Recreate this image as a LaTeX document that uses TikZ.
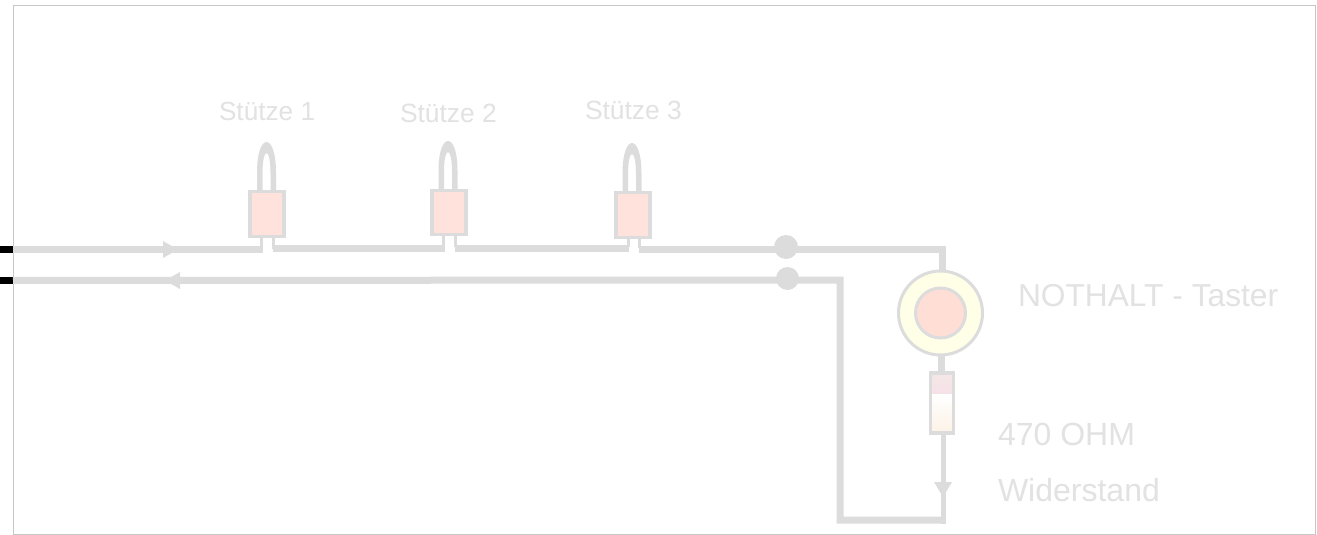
\documentclass[tikz,border=0pt]{standalone}
\usepackage{fontspec}
\setmainfont{Liberation Sans}
\usetikzlibrary{calc}
\definecolor{wire}{HTML}{DCDCDC}
\definecolor{label}{HTML}{E2E2E2}
\definecolor{pad}{HTML}{FFE2DC}
\definecolor{ringfill}{HTML}{FFFFE8}
\definecolor{knob}{HTML}{FFDED6}
\definecolor{resA}{HTML}{F4E8E6}
\definecolor{resB}{HTML}{F6E0E8}
\definecolor{resC}{HTML}{FDF2E6}
\tikzset{
  wireline/.style={draw=wire,line width=7pt,line cap=butt,line join=miter},
  stem/.style={draw=wire,line width=3pt},
  padbox/.style={draw=wire,line width=3.2pt,fill=pad,minimum width=34pt,minimum height=44.5pt,inner sep=0pt,outer sep=0pt},
  lab/.style={text=label,anchor=base west,inner sep=0pt,outer sep=0pt},
  dot/.style={circle,fill=wire,inner sep=0pt,outer sep=0pt},
  stub/.style={draw=black,line width=7pt},
  head/.style={fill=wire}
}
\newcommand{\hoop}[3]{%
  \fill[wire] (#1,#2+1) -- (#1,#2-18) .. controls (#1,#3+9) and (#1+5,#3) .. (#1+9.5,#3) .. controls (#1+14,#3) and (#1+19,#3+9) .. (#1+19,#2-18) -- (#1+19,#2+1) -- (#1+13.5,#2+1) -- (#1+13.5,#2-18) .. controls (#1+13.5,#3+18) and (#1+11.5,#3+11) .. (#1+9.5,#3+11) .. controls (#1+7.5,#3+11) and (#1+5.5,#3+18) .. (#1+5.5,#2-18) -- (#1+5.5,#2+1) -- cycle;
}
\begin{document}
\begin{tikzpicture}[x=1pt,y=-1pt]
\useasboundingbox (0,0) rectangle (1317,535);
\fill[white] (0,0) rectangle (1317,535);
\draw[draw=black!22,line width=1pt] (13.5,5.5) rectangle (1315,534);
% loops
\hoop{257}{191}{142}
\hoop{438.5}{189}{141}
\hoop{622.5}{192}{143}
% contact boxes
\node[padbox] (b1) at (267,214) {};
\node[padbox] (b2) at (449,212.5) {};
\node[padbox] (b3) at (633,215) {};
% button
\node[circle,draw=wire,line width=3pt,fill=ringfill,minimum size=84pt,inner sep=0pt,outer sep=0pt] (ring) at (940.5,313) {};
\node[circle,draw=wire,line width=3pt,fill=knob,minimum size=50pt,inner sep=0pt,outer sep=0pt] (knobc) at (940.5,313) {};
% resistor
\node[minimum width=23pt,minimum height=60pt,inner sep=0pt,outer sep=0pt] (r) at (942.3,403) {};
\shade[top color=resA,bottom color=resB] (r.north west) rectangle ($(r.north east)+(0,21)$);
\shade[top color=white,bottom color=resC] ($(r.north west)+(0,21)$) rectangle (r.south east);
\draw[draw=wire,line width=3.2pt] (r.north west) rectangle (r.south east);
% coordinates
\coordinate (inA) at (13,249.5);
\coordinate (inB) at (13,280.5);
\coordinate (edgeA) at (0,249.5);
\coordinate (edgeB) at (0,280.5);
\coordinate (cTop) at (942,249);
\coordinate (cLow) at (840,280);
\coordinate (cBotL) at (840,520);
\coordinate (cBotR) at (943,520);
% stubs
\draw[stub] (edgeA) -- (inA);
\draw[stub] (edgeB) -- (inB);
% wires
\draw[wireline] (inA) -- (263,249.5);
\draw[stem] ($(b1.south)+(-6,0)$) -- ($(b1.south)+(-6,10)$);
\draw[stem] ($(b1.south)+(6,0)$) -- ($(b1.south)+(6,13)$);
\draw[wireline] (273,248) -- (445,248);
\draw[stem] ($(b2.south)+(-6,0)$) -- ($(b2.south)+(-6,10)$);
\draw[stem] ($(b2.south)+(6,0)$) -- ($(b2.south)+(6,12)$);
\draw[wireline] (455,248.3) -- (629,248.3);
\draw[stem] ($(b3.south)+(-5,0)$) -- ($(b3.south)+(-5,10)$);
\draw[stem] ($(b3.south)+(6,0)$) -- ($(b3.south)+(6,11)$);
\draw[wireline] (639,249) -- (cTop) -- (cTop |- ring.north);
\draw[wireline] (inB) -- (cLow) -- (cBotL) -- (cBotR);
\coordinate (rTop) at (941,372);
\draw[wireline] (rTop |- ring.south) -- (rTop);
\draw[wireline,line width=5pt] (cBotR |- r.south) -- ($(cBotR)+(0,3.5)$);
% junction dots
\node[dot,minimum size=24pt] (d1) at (786,247) {};
\node[dot,minimum size=23pt] (d2) at (787.5,278.5) {};
% arrowheads
\fill[head] (163,241) -- (178,249.5) -- (163,258) -- cycle;
\fill[head] (180,272) -- (165,280.5) -- (180,289) -- cycle;
\fill[head] (934,482) -- (952,482) -- (943,497) -- cycle;
% labels
\node[lab,font=\fontsize{26.2}{30}\selectfont] (t1) at (219,120) {Stütze 1};
\node[lab,font=\fontsize{26.4}{30}\selectfont] (t2) at (400,122) {Stütze 2};
\node[lab,font=\fontsize{26.4}{30}\selectfont] (t3) at (585,119) {Stütze 3};
\node[lab,font=\fontsize{31.7}{36}\selectfont] (t4) at (1018,306) {NOTHALT - Taster};
\node[lab,font=\fontsize{32}{38}\selectfont] (t5) at (998,445) {470 OHM};
\node[lab,font=\fontsize{32}{38}\selectfont] (t6) at (998,501) {Widerstand};
\end{tikzpicture}
\end{document}
